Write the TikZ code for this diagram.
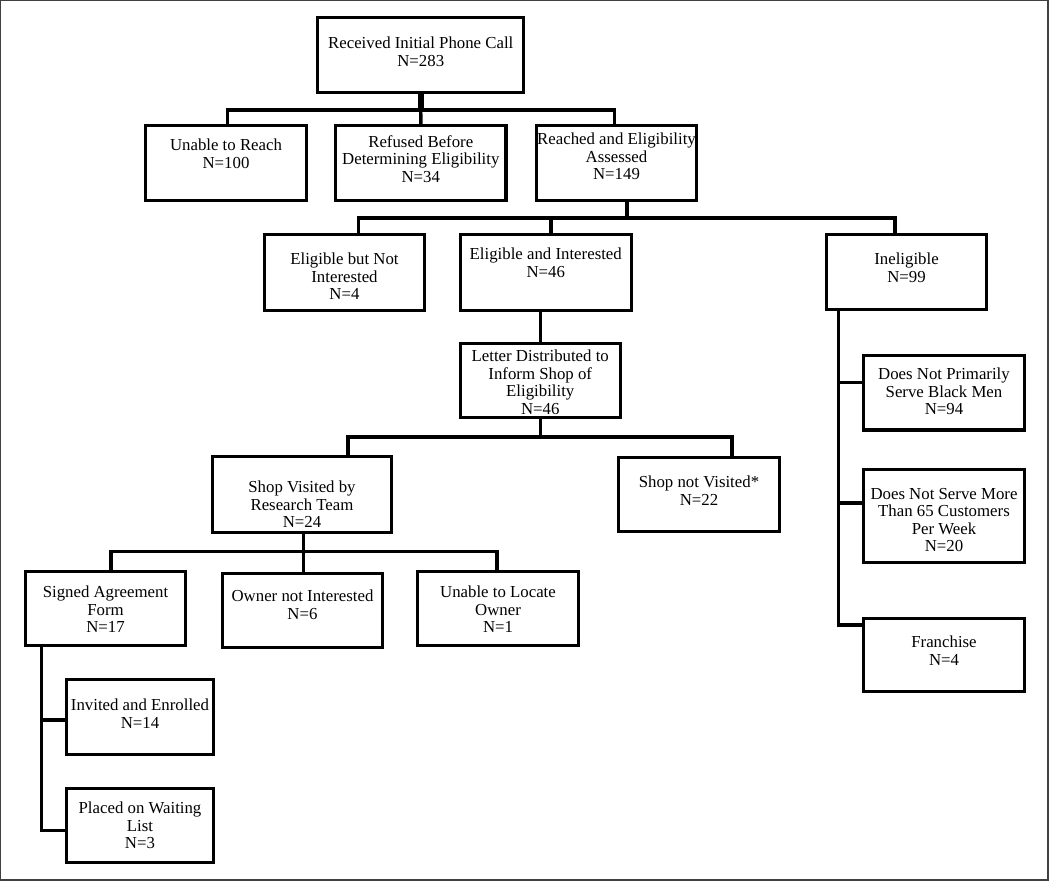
\documentclass[tikz,border=0pt]{standalone}
\usepackage{fontspec}
\setmainfont{Liberation Serif}
\tikzset{
  box/.style={draw=black, line width=2.6pt, inner sep=0pt, outer sep=0pt},
  conn/.style={draw=black, line width=2.6pt},
  lbl/.style={anchor=north, align=center, inner sep=0pt, font=\fontsize{12.6}{13.1}\selectfont},
}
\newcommand{\bx}[7]{%
  \node[box, minimum width={(#4-#2-3.5)*0.75pt}, minimum height={(#5-#3-3.5)*0.75pt}] (#1) at ({(#2+#4)/2},{(#3+#5)/2}) {};
  \node[lbl] (#1-t) at ({(#2+#4)/2},{#6-6}) {#7};
}
\begin{document}
\begin{tikzpicture}[x=0.75pt, y=-0.75pt]
\useasboundingbox (0,0) rectangle (1050,881);
\draw[line width=1pt, draw=black!75] (0.7,0.7) rectangle (1048,880);

\bx{root}{316}{16}{525.5}{94}{42.7}{Received Initial Phone Call\\N=283}
\bx{unable}{144}{124}{308}{202}{145}{Unable to Reach\\N=100}
\bx{refused}{334}{124}{507.6}{202}{141}{Refused Before\\Determining Eligibility\\N=34}
\bx{reached}{535}{124}{698}{202}{139}{Reached and Eligibility\\Assessed\\N=149}
\bx{ebni}{263}{233}{426}{312}{259}{Eligible but Not\\Interested\\N=4}
\bx{ei}{458.5}{233}{633}{312}{254}{Eligible and Interested\\N=46}
\bx{inel}{825}{233}{988}{311}{258.7}{Ineligible\\N=99}
\bx{letter}{458.5}{342}{622}{419}{356}{Letter Distributed to\\Inform Shop of\\Eligibility\\N=46}
\bx{sv}{211}{455}{393}{534}{487}{Shop Visited by\\Research Team\\N=24}
\bx{snv}{617}{456}{781}{533}{482}{Shop not Visited*\\N=22}
\bx{signed}{24}{570}{187}{647}{592}{Signed Agreement\\Form\\N=17}
\bx{owner}{221}{572}{384}{649}{595.7}{Owner not Interested\\N=6}
\bx{locate}{416}{570}{580}{647}{592}{Unable to Locate\\Owner\\N=1}
\bx{invited}{65}{678}{215}{756}{704.7}{Invited and Enrolled\\N=14}
\bx{placed}{65}{787}{215}{864}{808}{Placed on Waiting\\List\\N=3}
\bx{dnp}{862}{354}{1026}{431.7}{374}{Does Not Primarily\\Serve Black Men\\N=94}
\bx{dns}{862}{468}{1026}{564}{494}{Does Not Serve More\\Than 65 Customers\\Per Week\\N=20}
\bx{fr}{862}{616.7}{1026}{693}{642}{Franchise\\N=4}

% level 1
\coordinate (j1l) at (227.7,110);
\coordinate (j1r) at (614.7,110);
\draw[conn] (unable.north -| j1l) -- (j1l) -- (j1r) -- (reached.north -| j1r);
\draw[conn, line width=4.2pt] (root.south) -- (root.south |- j1l);
\draw[conn] (root.south |- j1l) -- (refused.north);

% level 2
\coordinate (j2) at (627,218);
\coordinate (j2l) at (358.5,218);
\coordinate (j2m) at (551,218);
\coordinate (j2r) at (895,218);
\draw[conn] (reached.south -| j2) -- (j2);
\draw[conn] (ebni.north -| j2l) -- (j2l) -- (j2r) -- (inel.north -| j2r);
\draw[conn] (j2m) -- (ei.north -| j2m);

% level 3
\draw[conn] (ei.south -| letter.north) -- (letter.north);

% level 4
\coordinate (j4l) at (348,437);
\coordinate (j4r) at (732,437);
\draw[conn] (letter.south) -- (letter.south |- j4l);
\draw[conn] (sv.north -| j4l) -- (j4l) -- (j4r) -- (snv.north -| j4r);

% level 5
\coordinate (j5) at (303.6,551.5);
\coordinate (j5l) at (111,551.5);
\coordinate (j5r) at (497,551.5);
\draw[conn] (sv.south -| j5) -- (j5);
\draw[conn] (signed.north -| j5l) -- (j5l) -- (j5r) -- (locate.north -| j5r);
\draw[conn] (j5) -- (owner.north -| j5);

% signed branch
\coordinate (s1) at (41.3,720);
\coordinate (s2) at (41.3,830.7);
\draw[conn] (signed.south -| s1) -- (s2) -- (placed.west |- s2);
\draw[conn] (s1) -- (invited.west |- s1);

% ineligible branch
\coordinate (i1) at (838.7,382.7);
\coordinate (i2) at (838.7,503);
\coordinate (i3) at (838.7,625);
\draw[conn] (inel.south -| i1) -- (i3) -- (fr.west |- i3);
\draw[conn] (i1) -- (dnp.west |- i1);
\draw[conn] (i2) -- (dns.west |- i2);
\end{tikzpicture}
\end{document}
